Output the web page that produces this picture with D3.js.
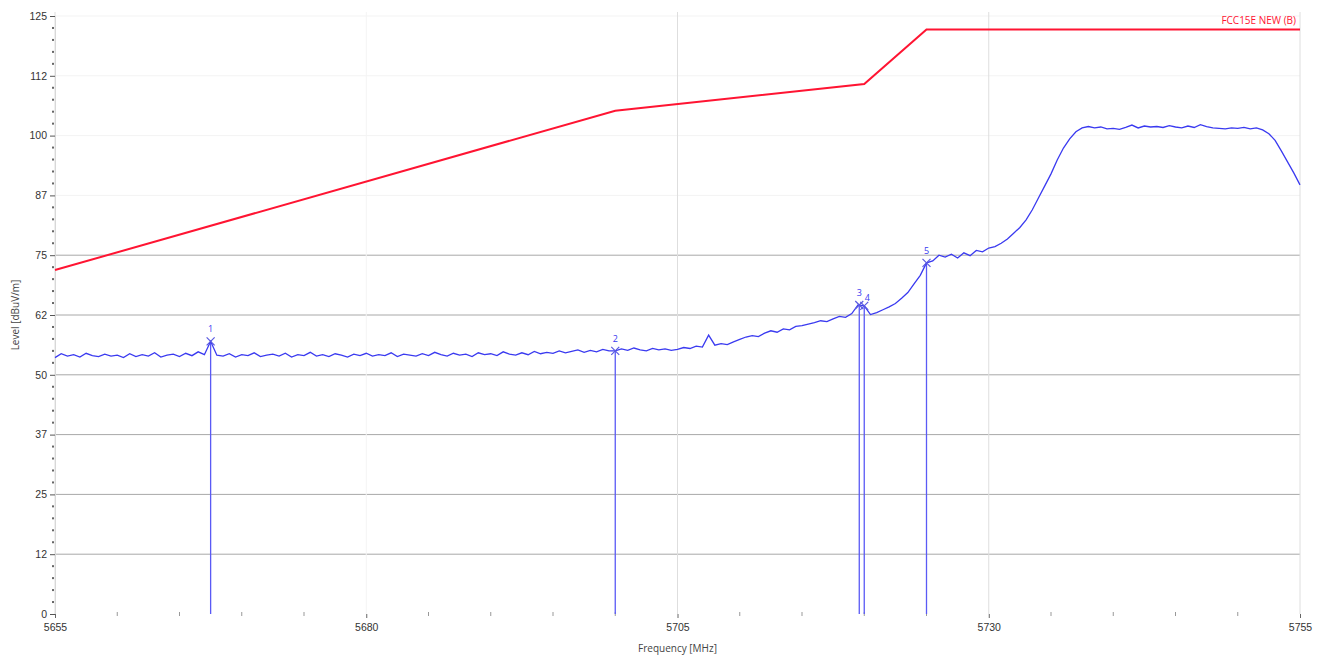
<!DOCTYPE html>
<html><head><meta charset="utf-8">
<script src="https://cdn.jsdelivr.net/npm/d3@7"></script>
<style>body{margin:0;background:#fff;} svg{display:block;font-family:"Open Sans","Noto Sans",sans-serif;}</style>
</head><body><svg id="c" width="1320" height="658"></svg>
<script>
const yTicks = [0, 12.5, 25, 37.5, 50, 62.5, 75, 87.5, 100, 112.5, 125];
const yTickLabels = ["0", "12", "25", "37", "50", "62", "75", "87", "100", "112", "125"];
const xTicks = [5655, 5680, 5705, 5730, 5755];
const xTickLabels = ["5655", "5680", "5705", "5730", "5755"];
const traceStart = 5655, traceStep = 0.5;
const traceLevels = [
  53.6, 54.4, 53.9, 54.2, 53.7, 54.5, 54.0, 53.8, 54.3, 53.9,
  54.1, 53.6, 54.4, 53.8, 54.2, 53.9, 54.6, 53.7, 54.1, 54.3,
  53.8, 54.5, 54.0, 54.8, 54.2, 57.0, 54.1, 53.9, 54.4, 53.7,
  54.2, 54.0, 54.6, 53.8, 54.1, 54.3, 53.9, 54.5, 53.7, 54.2,
  54.0, 54.7, 53.9, 54.2, 53.8, 54.4, 54.1, 53.7, 54.3, 54.0,
  54.5, 53.9, 54.2, 54.0, 54.6, 53.8, 54.3, 54.1, 53.9, 54.4,
  54.0, 54.7, 54.2, 53.9, 54.5, 54.1, 54.3, 53.8, 54.6, 54.2,
  54.4, 54.0, 54.8, 54.3, 54.1, 54.6, 54.2, 54.9, 54.4, 54.7,
  54.5, 55.0, 54.6, 54.9, 55.2, 54.7, 55.1, 54.8, 55.3, 55.0,
  55.0,
  55.4, 55.1, 55.6, 55.2, 55.0, 55.5, 55.2, 55.4, 55.1,
  55.3, 55.7, 55.5, 56.0, 55.8, 58.3, 56.2, 56.5, 56.3, 56.9,
  57.4, 57.9, 58.2, 58.0, 58.7, 59.2, 58.9, 59.6, 59.4, 60.1,
  60.3, 60.6, 60.9, 61.3, 61.1, 61.7, 62.2, 62.0, 62.8, 64.6,
  64.4, 62.6, 63.0, 63.6, 64.2, 64.9, 66.0, 67.2, 69.0, 70.8,
  73.4, 73.8, 75.0, 74.6, 75.2, 74.4, 75.5, 74.9, 76.0, 75.7,
  76.5, 76.8, 77.5, 78.4, 79.6, 80.8, 82.4, 84.5, 87.0, 89.5,
  92.0, 94.9, 97.4, 99.3, 100.8, 101.6, 101.9, 101.6, 101.8, 101.4,
  101.5, 101.3, 101.7, 102.2, 101.6, 102.0, 101.8, 101.9, 101.7, 102.1,
  101.8, 101.6, 102.0, 101.7, 102.3, 101.9, 101.6, 101.5, 101.4, 101.6,
  101.5, 101.7, 101.4, 101.6, 101.2, 100.4, 99.0, 96.8, 94.5, 92.2,
  89.7
];
const limitFreqs = [5655, 5700, 5720, 5725, 5755];
const limitLevels = [71.9, 105.2, 110.8, 122.2, 122.2];
const limitName = "FCC15E NEW (B)";
const markerLabels = ["1", "2", "3", "4", "5"];
const markerFreqs = [5667.5, 5700.0, 5719.6, 5720.0, 5725.0];
const markerLevels = [57.0, 55.0, 64.6, 64.4, 73.4];

const W = 1320, H = 658;
const L = 55, R = 1300, T = 16, B = 614;
const svg = d3.select("#c");
svg.append("rect").attr("width", W).attr("height", H).attr("fill", "#fff");

const x = d3.scaleLinear().domain([5655, 5755]).range([L, R]);
const y = d3.scaleLinear().domain([0, 125]).range([B, T]);

// horizontal grid
svg.append("g").selectAll("line").data(yTicks.filter(v => v > 0)).join("line")
  .attr("x1", L).attr("x2", R).attr("y1", d => y(d)).attr("y2", d => y(d))
  .attr("stroke", d => d <= 75 ? "#a8a8a8" : "#f3f3f3").attr("stroke-width", 1);
// vertical grid
svg.append("g").selectAll("line").data(xTicks).join("line")
  .attr("x1", d => x(d)).attr("x2", d => x(d)).attr("y1", T - 4).attr("y2", B)
  .attr("stroke", d => d === 5680 ? "#f4f4f4" : "#dedede").attr("stroke-width", 1);

// y axis
const yAxis = d3.axisLeft(y).tickValues(yTicks).tickSize(5).tickPadding(3)
  .tickFormat((d, i) => yTickLabels[i]);
const gy = svg.append("g").attr("transform", `translate(${L},0)`).call(yAxis);
gy.select(".domain").attr("stroke", "#d8d8d8");
gy.selectAll(".tick line").attr("stroke", "#555");
gy.selectAll(".tick text").attr("fill", "#333").style("font-size", "10.5px");
const yMinor = d3.range(0, 126, 2.5).filter(v => yTicks.indexOf(v) < 0);
svg.append("g").selectAll("rect").data(yMinor).join("rect")
  .attr("x", L - 3).attr("y", d => y(d) - 1).attr("width", 2).attr("height", 2).attr("fill", "#666");

// x axis
const xAxis = d3.axisBottom(x).tickValues(xTicks).tickSize(4).tickPadding(6)
  .tickFormat((d, i) => xTickLabels[i]);
const gx = svg.append("g").attr("transform", `translate(0,${B})`).call(xAxis);
gx.select(".domain").remove();
gx.selectAll(".tick line").attr("stroke", "#666");
gx.selectAll(".tick text").attr("fill", "#333").style("font-size", "10.5px");
const xMinor = d3.range(5655, 5756, 5).filter(v => xTicks.indexOf(v) < 0);
svg.append("g").selectAll("line").data(xMinor).join("line")
  .attr("x1", d => x(d)).attr("x2", d => x(d)).attr("y1", B - 2).attr("y2", B + 2)
  .attr("stroke", "#999");

// axis titles
svg.append("text").attr("x", x(5705)).attr("y", 652).attr("text-anchor", "middle")
  .attr("fill", "#444").style("font-size", "10px").text("Frequency [MHz]");
svg.append("text").attr("transform", `translate(19,${y(62.5)}) rotate(-90)`).attr("text-anchor", "middle")
  .attr("fill", "#444").style("font-size", "10px").text("Level [dBuV/m]");

// marker vertical lines
svg.append("g").selectAll("line").data(markerFreqs).join("line")
  .attr("x1", d => x(d)).attr("x2", d => x(d))
  .attr("y1", (d, i) => y(markerLevels[i])).attr("y2", B)
  .attr("stroke", "#5a5af5").attr("stroke-width", 1.3);

// trace
const trace = traceLevels.map((v, i) => [traceStart + i * traceStep, v]);
svg.append("path").datum(trace)
  .attr("d", d3.line().x(d => x(d[0])).y(d => y(d[1])))
  .attr("fill", "none").attr("stroke", "#3a3af0").attr("stroke-width", 1.3);

// limit line
const limit = limitFreqs.map((f, i) => [f, limitLevels[i]]);
svg.append("path").datum(limit)
  .attr("d", d3.line().x(d => x(d[0])).y(d => y(d[1])))
  .attr("fill", "none").attr("stroke", "#ff1432").attr("stroke-width", 2);
svg.append("text").attr("x", R - 4).attr("y", y(122.2) - 5).attr("text-anchor", "end")
  .attr("fill", "#ff1432").style("font-size", "10px").text(limitName);

// markers
const mg = svg.append("g").selectAll("g").data(markerFreqs).join("g")
  .attr("transform", (d, i) => `translate(${x(d)},${y(markerLevels[i])})`);
mg.append("path").attr("d", "M-4,-4L4,4M-4,4L4,-4").attr("stroke", "#5a5ae0").attr("stroke-width", 1.2);
mg.append("text").attr("x", (d, i) => i === 3 ? 3 : 0).attr("y", (d, i) => i === 3 ? -5 : -9)
  .attr("text-anchor", "middle").attr("fill", "#3a3af0").style("font-size", "9px")
  .text((d, i) => markerLabels[i]);
</script></body></html>
